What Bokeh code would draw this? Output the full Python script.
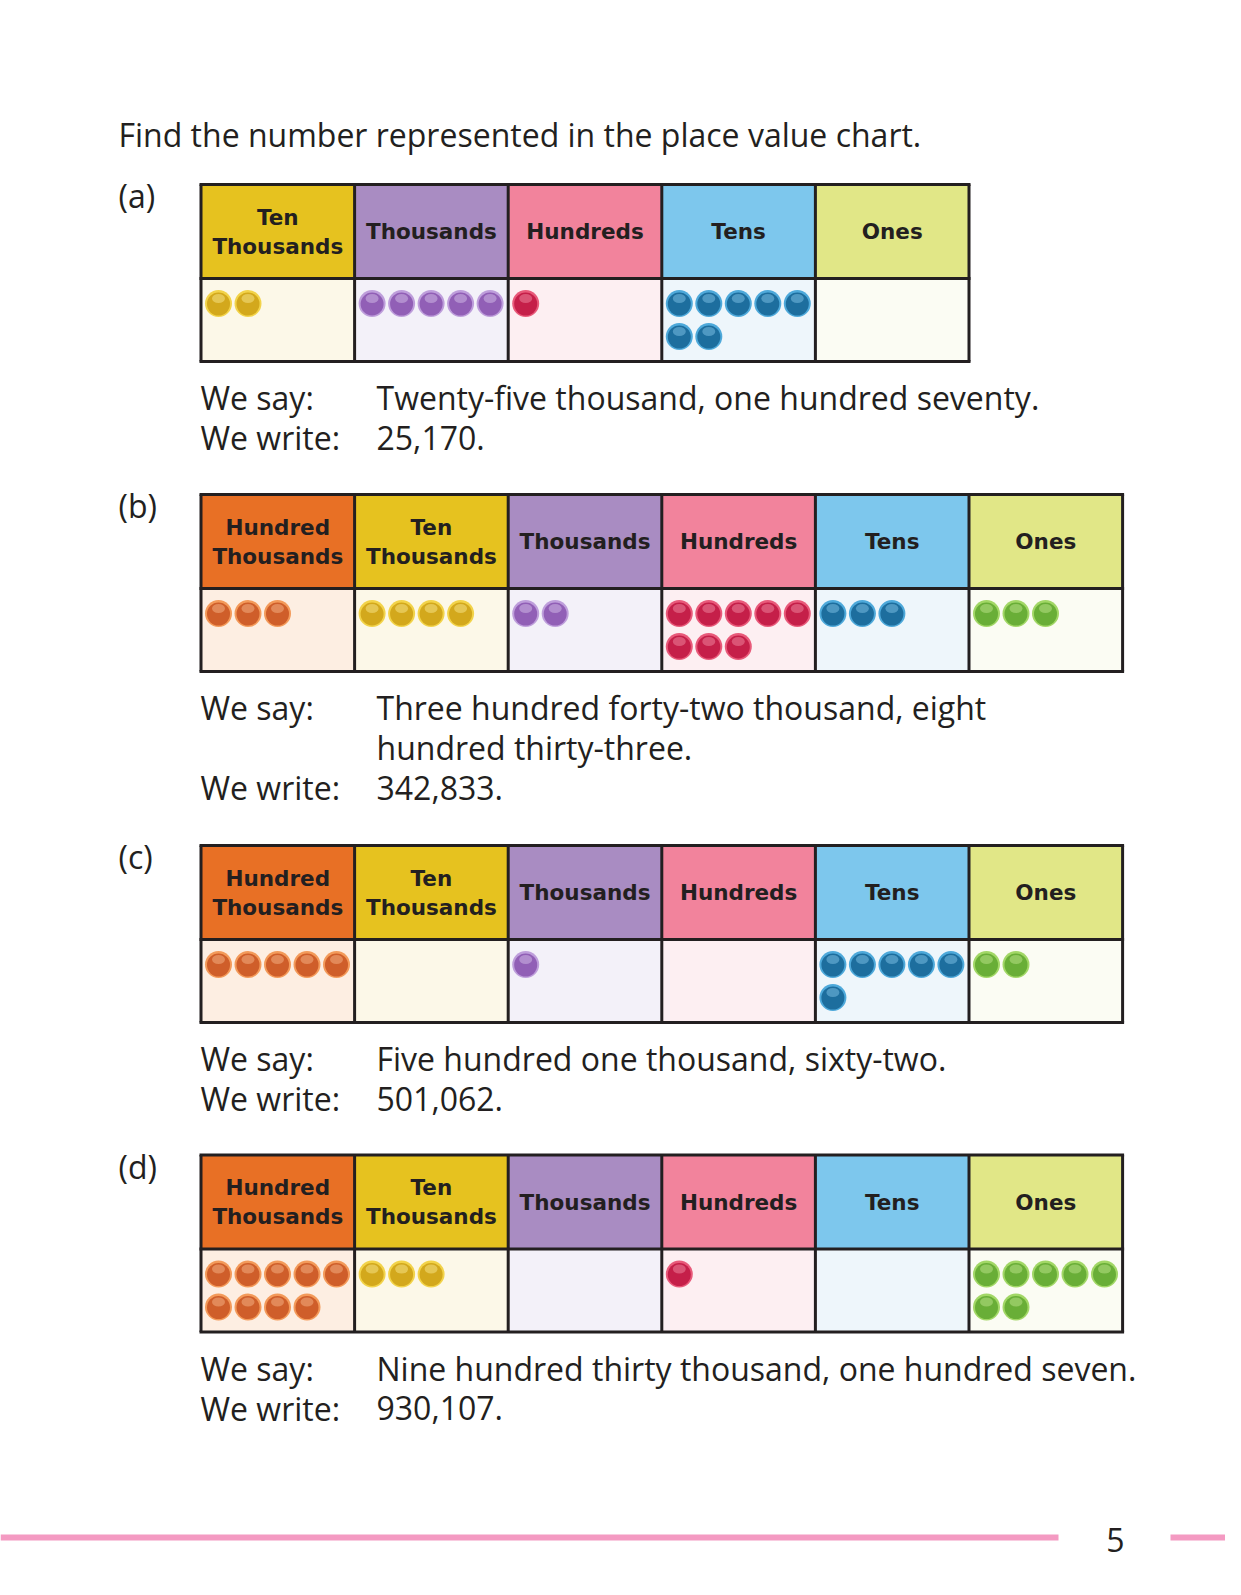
from bokeh.plotting import figure
from bokeh.models import Range1d
from bokeh.embed import file_html
from bokeh.resources import INLINE
from bokeh.core.properties import value

# ---------------- data ----------------
title_text = "Find the number represented in the place value chart."
chart_labels = ["(a)", "(b)", "(c)", "(d)"]

places_a = ["Ten Thousands", "Thousands", "Hundreds", "Tens", "Ones"]
digits_a = [2, 5, 1, 7, 0]
places_b = ["Hundred Thousands", "Ten Thousands", "Thousands", "Hundreds", "Tens", "Ones"]
digits_b = [3, 4, 2, 8, 3, 3]
places_c = ["Hundred Thousands", "Ten Thousands", "Thousands", "Hundreds", "Tens", "Ones"]
digits_c = [5, 0, 1, 0, 6, 2]
places_d = ["Hundred Thousands", "Ten Thousands", "Thousands", "Hundreds", "Tens", "Ones"]
digits_d = [9, 3, 0, 1, 0, 7]

say_a = ["Twenty-five thousand, one hundred seventy."]
say_b = ["Three hundred forty-two thousand, eight", "hundred thirty-three."]
say_c = ["Five hundred one thousand, sixty-two."]
say_d = ["Nine hundred thirty thousand, one hundred seven."]
write_a = "25,170."
write_b = "342,833."
write_c = "501,062."
write_d = "930,107."
say_label = "We say:"
write_label = "We write:"
page_number = "5"

# ---------------- styles ----------------
STYLE = {
    "Hundred Thousands": dict(head="#E87025", body="#FDEEE2", bead="#CF5E2A", rim="#F39A5A", hi="#F6B488"),
    "Ten Thousands":     dict(head="#E6C21F", body="#FCF8E8", bead="#D3A81C", rim="#F2D34A", hi="#F8E58C"),
    "Thousands":         dict(head="#A98CC2", body="#F3F1F9", bead="#915FB6", rim="#BE9EDB", hi="#D3BDE8"),
    "Hundreds":          dict(head="#F2839C", body="#FDEFF2", bead="#C51F49", rim="#E85A7A", hi="#F08AA2"),
    "Tens":              dict(head="#7DC7ED", body="#EEF6FB", bead="#1D6E9E", rim="#4EA9DA", hi="#7FC2E6"),
    "Ones":              dict(head="#E1E787", body="#FBFCF3", bead="#69AE37", rim="#A2D766", hi="#BDE38C"),
}
HEAD_LINES = {
    "Hundred Thousands": ["Hundred", "Thousands"],
    "Ten Thousands": ["Ten", "Thousands"],
}
INK = "#231F20"
BODY_FONT = value("Open Sans")
HEAD_FONT = value("DejaVu Sans")
BODY_SIZE = "32px"

W, H = 1225, 1579
p = figure(width=W, height=H, x_range=Range1d(0, W), y_range=Range1d(H, 0),
           output_backend="svg", toolbar_location=None, min_border=0,
           x_axis_location=None, y_axis_location=None, background_fill_color="white",
           border_fill_color="white")
p.grid.visible = False
p.outline_line_color = None

# title
p.text(x=[118], y=[134], text=[title_text], text_font=BODY_FONT, text_font_size=BODY_SIZE,
       text_baseline="middle", text_align="left", text_color=INK)

charts = [
    (places_a, digits_a, say_a, write_a, 184.0),
    (places_b, digits_b, say_b, write_b, 494.0),
    (places_c, digits_c, say_c, write_c, 845.0),
    (places_d, digits_d, say_d, write_d, 1154.5),
]
LEFT = 200.5
COLW = 153.6
HEAD_H = 94.0
BODY_H = 83.0
BEAD_D = 27
BEAD_DX = 29.5
BEAD_DY = 33.0

for ci, (places, digits, say, write, top) in enumerate(charts):
    hb = top + HEAD_H
    bottom = hb + BODY_H
    n = len(places)
    lefts = [LEFT + i * COLW for i in range(n)]
    rights = [l + COLW for l in lefts]
    # cells
    p.quad(left=lefts, right=rights, top=[top] * n, bottom=[hb] * n,
           fill_color=[STYLE[pl]["head"] for pl in places], line_color=None)
    p.quad(left=lefts, right=rights, top=[hb] * n, bottom=[bottom] * n,
           fill_color=[STYLE[pl]["body"] for pl in places], line_color=None)
    # grid lines
    xs0 = lefts + [rights[-1]]
    p.segment(x0=xs0, y0=[top] * len(xs0), x1=xs0, y1=[bottom] * len(xs0),
              line_color=INK, line_width=3)
    p.segment(x0=[LEFT - 1.5] * 3, y0=[top, hb, bottom], x1=[rights[-1] + 1.5] * 3,
              y1=[top, hb, bottom], line_color=INK, line_width=3)
    # header labels
    hx, hy, ht = [], [], []
    for pl, l in zip(places, lefts):
        lines = HEAD_LINES.get(pl, [pl])
        cy = (top + hb) / 2
        if len(lines) == 1:
            hx.append(l + COLW / 2); hy.append(cy); ht.append(lines[0])
        else:
            hx += [l + COLW / 2] * 2; hy += [cy - 14.5, cy + 14.5]; ht += lines
    p.text(x=hx, y=hy, text=ht, text_font=HEAD_FONT, text_font_style="bold",
           text_font_size="21.5px", text_align="center", text_baseline="middle", text_color=INK)
    # beads
    for pl, dg, l in zip(places, digits, lefts):
        st = STYLE[pl]
        bx = [l + 17.5 + (k % 5) * BEAD_DX for k in range(dg)]
        by = [hb + 25 + (k // 5) * BEAD_DY for k in range(dg)]
        if not bx:
            continue
        p.scatter(x=bx, y=by, size=BEAD_D, marker="circle", fill_color=st["rim"], line_color=None)
        p.scatter(x=bx, y=[y + 0.5 for y in by], size=BEAD_D - 4, marker="circle",
                  fill_color=st["bead"], line_color=None)
        p.ellipse(x=bx, y=[y - 5 for y in by], width=13, height=9,
                  fill_color=st["hi"], fill_alpha=0.5, line_color=None)
    # chart label
    p.text(x=[118], y=[top + 11], text=[chart_labels[ci]], text_font=BODY_FONT,
           text_font_size=BODY_SIZE, text_baseline="middle", text_align="left", text_color=INK)
    # we say / we write
    y0 = bottom + 36
    p.text(x=[200], y=[y0], text=[say_label], text_font=BODY_FONT, text_font_size=BODY_SIZE,
           text_baseline="middle", text_align="left", text_color=INK)
    p.text(x=[376] * len(say), y=[y0 + 40 * k for k in range(len(say))], text=say,
           text_font=BODY_FONT, text_font_size=BODY_SIZE, text_baseline="middle",
           text_align="left", text_color=INK)
    yw = y0 + 40 * len(say)
    p.text(x=[200], y=[yw], text=[write_label], text_font=BODY_FONT, text_font_size=BODY_SIZE,
           text_baseline="middle", text_align="left", text_color=INK)
    p.text(x=[376], y=[yw], text=[write], text_font=BODY_FONT, text_font_size=BODY_SIZE,
           text_baseline="middle", text_align="left", text_color=INK)

# footer
p.segment(x0=[0, 1170], y0=[1537, 1537], x1=[1058, W], y1=[1537, 1537],
          line_color="#F49AC2", line_width=6)
p.text(x=[1115], y=[1539], text=[page_number], text_font=BODY_FONT, text_font_size=BODY_SIZE,
       text_baseline="middle", text_align="center", text_color=INK)

open("out.html", "w").write(file_html(p, INLINE))
